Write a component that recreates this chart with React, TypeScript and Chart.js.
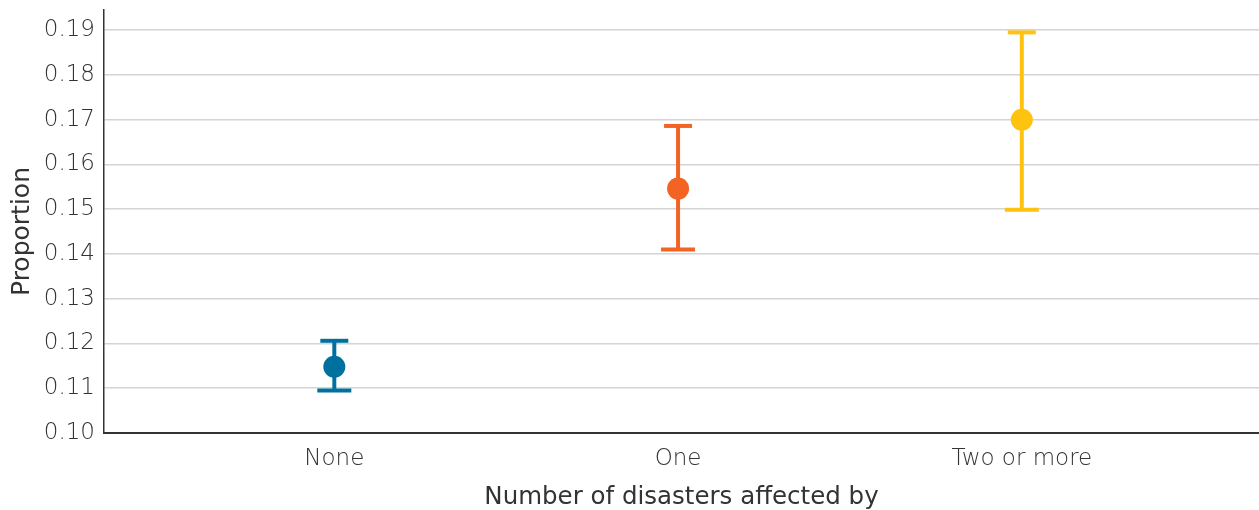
import React, { useEffect, useRef } from "react";
import { Chart, registerables } from "chart.js";

Chart.register(...registerables);

const categories = ["None", "One", "Two or more"];
const means = [0.1148, 0.1546, 0.1700];
const lowers = [0.1095, 0.1410, 0.1499];
const uppers = [0.1206, 0.1686, 0.1895];
const colors = ["#00719F", "#F26324", "#FEC30F"];
const yTicks = [0.1, 0.11, 0.12, 0.13, 0.14, 0.15, 0.16, 0.17, 0.18, 0.19];
const yTitle = "Proportion";
const xTitle = "Number of disasters affected by";

const FONT = "'DejaVu Sans', 'Open Sans', sans-serif";

const errorBarPlugin = {
  id: "errorBars",
  beforeDatasetsDraw(chart: any) {
    const { ctx, scales } = chart;
    const xs = scales.x;
    const ys = scales.y;
    ctx.save();
    means.forEach((_, i) => {
      const x = xs.getPixelForValue(i + 1);
      const yTop = ys.getPixelForValue(uppers[i]);
      const yBot = ys.getPixelForValue(lowers[i]);
      ctx.strokeStyle = colors[i];
      ctx.lineWidth = 4;
      ctx.lineCap = "butt";
      ctx.beginPath();
      ctx.moveTo(x, yTop);
      ctx.lineTo(x, yBot);
      ctx.stroke();
      ctx.beginPath();
      ctx.moveTo(x - 14, yTop);
      ctx.lineTo(x + 14, yTop);
      ctx.stroke();
      ctx.beginPath();
      ctx.moveTo(x - 17, yBot);
      ctx.lineTo(x + 17, yBot);
      ctx.stroke();
    });
    ctx.restore();
  },
  afterDraw(chart: any) {
    const { ctx, chartArea } = chart;
    ctx.save();
    ctx.translate(22, (chartArea.top + chartArea.bottom) / 2 + 10);
    ctx.rotate(-Math.PI / 2);
    ctx.font = `400 25px ${FONT}`;
    ctx.fillStyle = "#333333";
    ctx.textAlign = "center";
    ctx.textBaseline = "middle";
    ctx.fillText(yTitle, 0, 0);
    ctx.restore();
  },
};

export default function App() {
  const ref = useRef<HTMLCanvasElement | null>(null);
  useEffect(() => {
    if (!ref.current) return;
    const chart = new Chart(ref.current, {
      type: "scatter",
      data: {
        datasets: [
          {
            data: means.map((m, i) => ({ x: i + 1, y: m })),
            pointRadius: 11,
            pointBackgroundColor: colors,
            pointBorderColor: colors,
            pointBorderWidth: 0,
            showLine: false,
          },
        ],
      },
      plugins: [errorBarPlugin],
      options: {
        responsive: false,
        animation: false,
        layout: { autoPadding: false, padding: { top: 10, right: 0, left: 0, bottom: 0 } },
        plugins: { legend: { display: false }, tooltip: { enabled: false } },
        scales: {
          x: {
            type: "linear",
            min: 0.33,
            max: 3.69,
            afterFit: (s: any) => {
              s.height = 77;
              s.paddingLeft = 0;
              s.paddingRight = 0;
            },
            afterBuildTicks: (s: any) => {
              s.ticks = categories.map((_, i) => ({ value: i + 1 }));
            },
            ticks: {
              callback: (v: any) => categories[Number(v) - 1] ?? "",
              font: { family: FONT, size: 23, weight: "200" },
              color: "#333333",
              padding: 12,
              maxRotation: 0,
              autoSkip: false,
            },
            grid: { display: false, drawTicks: false },
            border: { display: true, color: "#333333", width: 2 },
            title: {
              display: true,
              text: xTitle,
              font: { family: FONT, size: 24.5, weight: "400" },
              color: "#333333",
              padding: { top: 0, bottom: -2 },
            },
          },
          y: {
            min: 0.1,
            max: 0.1945,
            afterFit: (s: any) => {
              s.width = 104;
              s.paddingTop = 0;
              s.paddingBottom = 0;
            },
            afterBuildTicks: (s: any) => {
              s.ticks = yTicks.map((v) => ({ value: v }));
            },
            ticks: {
              callback: (v: any) => Number(v).toFixed(2),
              font: { family: FONT, size: 23, weight: "200" },
              color: "#333333",
              padding: 9,
            },
            grid: { color: "#d4d4d4", lineWidth: 1.5, drawTicks: false },
            border: { display: true, color: "#333333", width: 1.5 },
            title: { display: false },
          },
        },
      },
    });
    return () => chart.destroy();
  }, []);
  return (
    <div style={{ position: "absolute", left: 0, top: 0, width: 1259, height: 510, background: "#fff" }}>
      <canvas ref={ref} width={1259} height={510} style={{ display: "block" }} />
    </div>
  );
}
